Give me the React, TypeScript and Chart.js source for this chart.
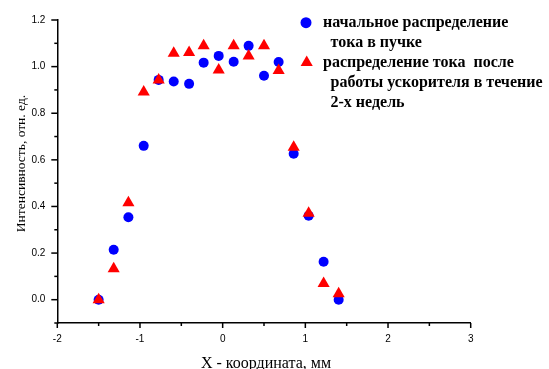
import React, { useEffect, useRef } from 'react';
import { Chart, registerables } from 'chart.js';

Chart.register(...registerables);

// X coordinate of each measurement, mm
const xCoords = [-1.5, -1.318, -1.14, -0.955, -0.774, -0.592, -0.406, -0.23, -0.048, 0.133, 0.314, 0.5, 0.677, 0.859, 1.04, 1.221, 1.403];
// initial current distribution in the beam
const initialCurrent = [0.0, 0.214, 0.354, 0.66, 0.943, 0.936, 0.926, 1.017, 1.046, 1.021, 1.089, 0.961, 1.02, 0.626, 0.36, 0.163, 0.0];
// current distribution after two weeks of accelerator operation
const afterTwoWeeks = [0.0, 0.133, 0.416, 0.891, 0.943, 1.057, 1.061, 1.089, 0.986, 1.089, 1.046, 1.089, 0.983, 0.654, 0.371, 0.069, 0.026];

const legendInitial = ['начальное распределение', 'тока в пучке'];
const legendAfter = ['распределение тока  после', 'работы ускорителя в течение', '2-х недель'];
const xTitle = 'X - координата, мм';
const yTitle = 'Интенсивность, отн. ед.';

const SERIF = '"Liberation Serif", "Times New Roman", serif';
const SANS = '"Liberation Sans", Arial, sans-serif';

const decorPlugin = {
  id: 'decor',
  afterDraw(chart: any) {
    const ctx = chart.ctx as CanvasRenderingContext2D;
    const xs = chart.scales.x;
    const ys = chart.scales.y;
    ctx.save();
    ctx.strokeStyle = '#000';
    ctx.lineWidth = 1.5;
    ys.ticks.forEach((t: any) => {
      const py = ys.getPixelForValue(t.value);
      const len = t.label ? 6 : 3;
      ctx.beginPath();
      ctx.moveTo(ys.right, py);
      ctx.lineTo(ys.right - len, py);
      ctx.stroke();
    });
    xs.ticks.forEach((t: any) => {
      const px = xs.getPixelForValue(t.value);
      const len = t.label ? 5 : 3;
      ctx.beginPath();
      ctx.moveTo(px, xs.top);
      ctx.lineTo(px, xs.top + len);
      ctx.stroke();
    });

    // axis titles
    ctx.fillStyle = '#000';
    ctx.font = `16px ${SERIF}`;
    ctx.textAlign = 'center';
    ctx.textBaseline = 'alphabetic';
    ctx.fillText(xTitle, 266, 368);
    ctx.save();
    ctx.font = `13.5px ${SERIF}`;
    ctx.translate(25, 163.5);
    ctx.rotate(-Math.PI / 2);
    ctx.fillText(yTitle, 0, 0);
    ctx.restore();

    // legend
    ctx.font = `bold 16px ${SERIF}`;
    ctx.textAlign = 'left';
    ctx.fillStyle = '#0000ff';
    ctx.beginPath();
    ctx.arc(306, 22.7, 5.5, 0, Math.PI * 2);
    ctx.fill();
    ctx.fillStyle = '#ff0000';
    const r = 7;
    const cx = 306.7, cy = 62.5;
    ctx.beginPath();
    ctx.moveTo(cx, cy - r);
    ctx.lineTo(cx + r * Math.sin(2 * Math.PI / 3), cy - r * Math.cos(2 * Math.PI / 3));
    ctx.lineTo(cx + r * Math.sin(4 * Math.PI / 3), cy - r * Math.cos(4 * Math.PI / 3));
    ctx.closePath();
    ctx.fill();
    ctx.fillStyle = '#000';
    ctx.fillText(legendInitial[0], 323, 27.3);
    ctx.fillText(legendInitial[1], 330.5, 47.3);
    ctx.fillText(legendAfter[0], 323, 66.7);
    ctx.fillText(legendAfter[1], 330.5, 86.7);
    ctx.fillText(legendAfter[2], 330.5, 106.7);
    ctx.restore();
  },
};

export default function App() {
  const ref = useRef<HTMLCanvasElement | null>(null);
  useEffect(() => {
    if (!ref.current) return;
    const chart = new Chart(ref.current, {
      type: 'scatter',
      data: {
        datasets: [
          {
            label: legendInitial.join(' '),
            data: xCoords.map((x, i) => ({ x, y: initialCurrent[i] })),
            pointStyle: 'circle',
            pointRadius: 5,
            backgroundColor: '#0000ff',
            borderColor: '#0000ff',
            borderWidth: 0,
            showLine: false,
            order: 1,
          },
          {
            label: legendAfter.join(' '),
            data: xCoords.map((x, i) => ({ x, y: afterTwoWeeks[i] })),
            pointStyle: 'triangle',
            pointRadius: 7,
            backgroundColor: '#ff0000',
            borderColor: '#ff0000',
            borderWidth: 0,
            showLine: false,
            order: 0,
          },
        ],
      },
      options: {
        responsive: false,
        animation: false,
        events: [],
        layout: { padding: { left: 0, top: 20, right: 78.3, bottom: 0 } },
        plugins: { legend: { display: false }, tooltip: { enabled: false } },
        scales: {
          x: {
            type: 'linear',
            position: 'bottom',
            min: -2,
            max: 3,
            afterFit: (s: any) => { s.height = 46; },
            grid: { display: false, drawTicks: false, tickLength: 0 },
            border: { display: true, color: '#000', width: 1.5 },
            ticks: {
              stepSize: 0.5,
              padding: 10,
              color: '#000',
              maxRotation: 0,
              autoSkip: false,
              font: { family: SANS, size: 10 },
              callback: (v: any) => {
                const n = Number(v);
                return Math.abs(n - Math.round(n)) < 1e-6 ? String(Math.round(n)) : '';
              },
            },
          },
          y: {
            type: 'linear',
            min: -0.1,
            max: 1.2,
            afterFit: (s: any) => { s.width = 57.3; },
            grid: { display: false, drawTicks: false, tickLength: 0 },
            border: { display: true, color: '#000', width: 1.5 },
            ticks: {
              stepSize: 0.1,
              padding: 12,
              color: '#000',
              autoSkip: false,
              font: { family: SANS, size: 10 },
              callback: (v: any) => {
                const k = Math.round(Number(v) * 10);
                return k % 2 === 0 ? (k / 10).toFixed(1) : '';
              },
            },
          },
        },
      },
      plugins: [decorPlugin],
    });
    return () => chart.destroy();
  }, []);
  return (
    <div style={{ position: 'fixed', left: 0, top: 0, width: 549, height: 369, background: '#fff' }}>
      <canvas ref={ref} width={549} height={369} style={{ display: 'block' }} />
    </div>
  );
}
